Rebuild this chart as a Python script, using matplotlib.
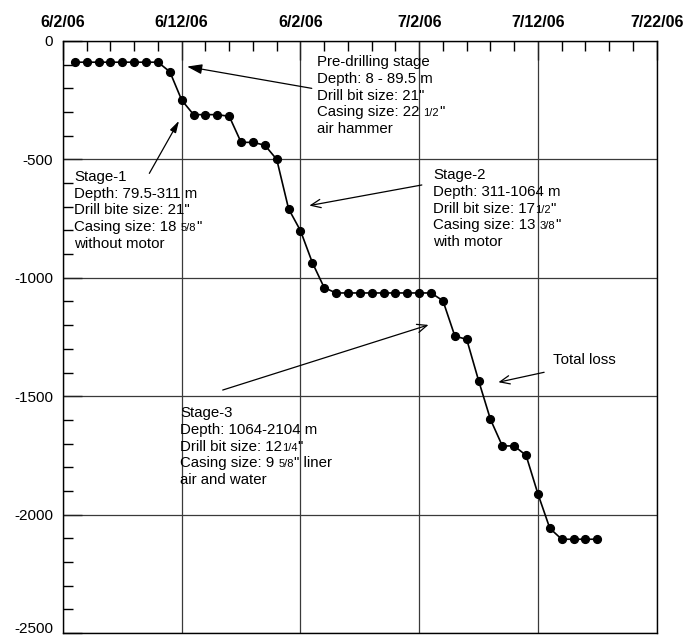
import datetime as dt

import matplotlib
matplotlib.use("Agg")
import matplotlib.dates as mdates
import matplotlib.pyplot as plt
import pandas as pd

# Daily drilling log: one reading per day from 6/3/06
dates = pd.date_range("2006-06-03", periods=45, freq="D")
depth = [
    -89.5, -89.5, -89.5, -89.5, -89.5, -89.5, -89.5, -89.5,
    -130, -250, -311, -311, -311, -318,
    -428, -428, -440, -500,
    -709, -801, -936, -1042,
    -1064, -1064, -1064, -1064, -1064, -1064, -1064, -1064, -1064,
    -1097, -1246, -1260, -1434, -1598,
    -1710, -1710, -1750, -1913, -2058,
    -2104, -2104, -2104, -2104,
]

tick_dates = ["2006-06-02", "2006-06-12", "2006-06-22",
              "2006-07-02", "2006-07-12", "2006-07-22"]
tick_labels = ["6/2/06", "6/12/06", "6/2/06", "7/2/06", "7/12/06", "7/22/06"]
y_ticks = [0, -500, -1000, -1500, -2000, -2500]

plt.rcParams["font.family"] = ["Liberation Sans", "DejaVu Sans"]
FS = 10.8
FS_SMALL = 8.0
GRID = "#3a3a3a"
DPI = 100

T0 = dt.datetime(2006, 6, 2)


def d(days):
    """Day offset from 6/2/06 as a matplotlib date number."""
    return mdates.date2num(T0 + dt.timedelta(days=days))


fig = plt.figure(figsize=(6.93, 6.39), dpi=DPI)
ax = fig.add_axes([63 / 693, 1 - 633 / 639, (656.7 - 63) / 693, (633 - 41) / 639])

ax.plot(dates, depth, color="black", lw=1.2, marker="o", ms=5.6,
        markerfacecolor="black", markeredgecolor="black", zorder=3)

ax.set_xlim(pd.Timestamp(tick_dates[0]), pd.Timestamp(tick_dates[-1]))
ax.set_ylim(-2500, 0)

ax.xaxis.tick_top()
ax.set_xticks([pd.Timestamp(t) for t in tick_dates])
ax.set_xticklabels(tick_labels, fontsize=11.5, fontweight="bold")
# every second day between the labelled dates
ax.xaxis.set_minor_locator(mdates.DayLocator(bymonthday=[4, 6, 8, 10, 14, 16, 18,
                                                        20, 24, 26, 28, 30]))
ax.set_yticks(y_ticks)
ax.set_yticklabels([str(v) for v in y_ticks], fontsize=11)
ax.set_yticks(range(-2400, 0, 100), minor=True)

ax.tick_params(axis="both", which="major", direction="in", length=14, width=1.0,
               color="#222222")
ax.tick_params(axis="both", which="minor", direction="in", length=7.5, width=1.0,
               color="black")
ax.tick_params(axis="x", which="both", top=True, bottom=False, pad=8)
ax.tick_params(axis="y", which="both", left=True, right=False, pad=7)
ylabels = ax.get_yticklabels()
for lab in ylabels:
    lab.set_verticalalignment("center_baseline")
# bottom label sits on the figure edge; keep it above
ylabels[-1].set_verticalalignment("baseline")

ax.grid(True, which="major", color=GRID, lw=0.9)
ax.set_axisbelow(True)
for s in ax.spines.values():
    s.set_color("black")
    s.set_linewidth(1.0)

LINE = 12.0  # line step in points
renderer = fig.canvas.get_renderer()


def block(x, y, lines):
    """Left-aligned text block; each line is a list of (text, size) parts
    sharing one baseline."""
    for i, parts in enumerate(lines):
        dx = 0.0
        for text, size in parts:
            t = ax.annotate(text, xy=(x, y), xytext=(dx, -i * LINE - 3.9),
                            textcoords="offset points", ha="left",
                            va="baseline", fontsize=size)
            dx += t.get_window_extent(renderer).width * 72 / DPI


def arrow(tail, head, style):
    ax.annotate("", xy=head, xytext=tail,
                arrowprops=dict(arrowstyle=style, color="black", lw=0.9,
                                shrinkA=0, shrinkB=0))


block(d(21.35), -84, [
    [("Pre-drilling stage", FS)],
    [("Depth: 8 - 89.5 m", FS)],
    [("Drill bit size: 21\"", FS)],
    [("Casing size: 22 ", FS), ("1/2", FS_SMALL), ("\"", FS)],
    [("air hammer", FS)],
])
arrow((d(20.95), -200), (d(10.45), -108), "-|>,head_length=0.9,head_width=0.3")

block(d(0.93), -569, [
    [("Stage-1", FS)],
    [("Depth: 79.5-311 m", FS)],
    [("Drill bite size: 21\"", FS)],
    [("Casing size: 18 ", FS), ("5/8", FS_SMALL), ("\"", FS)],
    [("without motor", FS)],
])
arrow((d(7.27), -559), (d(9.77), -337), "-|>,head_length=0.7,head_width=0.2")

block(d(31.15), -562, [
    [("Stage-2", FS)],
    [("Depth: 311-1064 m", FS)],
    [("Drill bit size: 17", FS), ("1/2", FS_SMALL), ("\"", FS)],
    [("Casing size: 13 ", FS), ("3/8", FS_SMALL), ("\"", FS)],
    [("with motor", FS)],
])
arrow((d(30.22), -608), (d(20.75), -695), "->,head_length=0.7,head_width=0.3")

block(d(9.86), -1566, [
    [("Stage-3", FS)],
    [("Depth: 1064-2104 m", FS)],
    [("Drill bit size: 12", FS), ("1/4", FS_SMALL), ("\"", FS)],
    [("Casing size: 9 ", FS), ("5/8", FS_SMALL), ("\" liner", FS)],
    [("air and water", FS)],
])
arrow((d(13.45), -1474), (d(30.78), -1199), "->,head_length=0.7,head_width=0.3")

block(d(41.3), -1343, [[("Total loss", FS)]])
arrow((d(40.52), -1399), (d(36.67), -1441), "->,head_length=0.7,head_width=0.3")

fig.savefig("out.png", dpi=DPI)
